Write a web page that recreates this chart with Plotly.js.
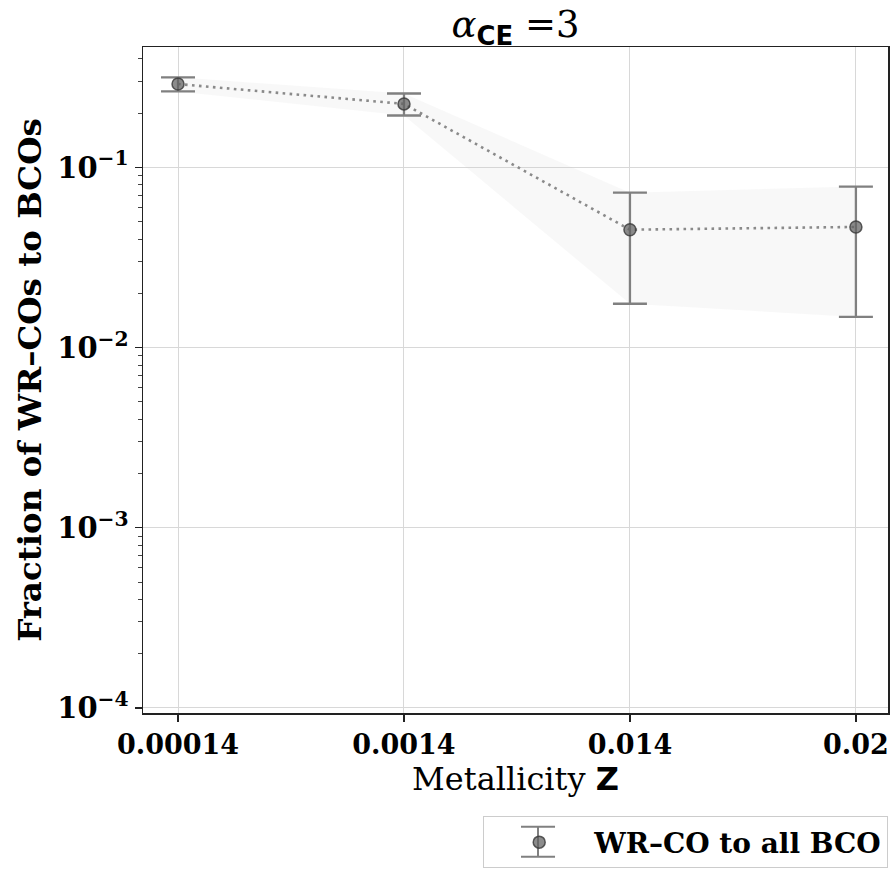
<!DOCTYPE html>
<html>
<head>
<meta charset="utf-8">
<script src="https://cdn.plot.ly/plotly-3.0.1.min.js"></script>
<style>html,body{margin:0;padding:0;background:#fff;}#chart{width:894px;height:870px;}</style>
</head>
<body>
<div id="chart"></div>
<script>
// Metallicity categories (x tick labels)
const zLabels = ['0.00014', '0.0014', '0.014', '0.02'];
// Fraction of WR-COs to all BCOs (median) and its upper / lower bounds
const fraction = [0.290, 0.225, 0.0451, 0.0467];
const upper    = [0.316, 0.257, 0.0724, 0.0782];
const lower    = [0.264, 0.194, 0.0175, 0.0148];
const seriesName = 'WR–CO to all BCO';
// y tick labels
const yTickVals = [1e-4, 1e-3, 1e-2, 1e-1];
const yTickText = ['10<sup>−4</sup>', '10<sup>−3</sup>', '10<sup>−2</sup>', '10<sup>−1</sup>'];

const errPlus  = upper.map((u, i) => u - fraction[i]);
const errMinus = fraction.map((f, i) => f - lower[i]);

// minor log tick positions (2..9 x 10^k)
const minorVals = [];
for (let k = -5; k <= 0; k++) for (let m = 2; m <= 9; m++) minorVals.push(m * Math.pow(10, k));

const band = {
  x: zLabels.concat(zLabels.slice().reverse()),
  y: upper.concat(lower.slice().reverse()),
  type: 'scatter', mode: 'lines', fill: 'toself',
  fillcolor: 'rgba(200,200,200,0.13)', line: {width: 0},
  hoverinfo: 'skip', showlegend: false
};
const dotted = {
  x: zLabels, y: fraction, type: 'scatter', mode: 'lines',
  line: {color: '#8a8a8a', width: 2.6, dash: '2.6px,4.4px'},
  showlegend: false, hoverinfo: 'skip'
};
const points = {
  x: zLabels, y: fraction, type: 'scatter', mode: 'markers', name: seriesName,
  marker: {size: 12, color: 'rgba(95,95,95,0.72)', line: {color: 'rgba(55,55,55,0.8)', width: 1.5}},
  error_y: {type: 'data', symmetric: false, array: errPlus, arrayminus: errMinus,
            color: '#808080', thickness: 2.3, width: 17},
  showlegend: true
};

// legend glyph whiskers (paper coords relative to plot area 143..888 x 47..713)
const px = v => (v - 143.3) / 744.4;
const py = v => (713.3 - v) / 666;
const gx = 538, gy = 842;
const legGlyph = [
  {x0: px(gx), x1: px(gx), y0: py(gy - 15), y1: py(gy + 15)},
  {x0: px(gx - 17), x1: px(gx + 17), y0: py(gy - 15), y1: py(gy - 15)},
  {x0: px(gx - 17), x1: px(gx + 17), y0: py(gy + 15), y1: py(gy + 15)}
].map(s => Object.assign({type: 'line', xref: 'paper', yref: 'paper', layer: 'above',
                          line: {color: '#808080', width: 2}}, s));

const serif = 'DejaVu Serif, serif';
const layout = {
  width: 894, height: 870,
  margin: {l: 143, r: 6, t: 47, b: 157, autoexpand: false},
  paper_bgcolor: '#fff', plot_bgcolor: '#fff',
  title: {
    text: '<i>α</i><sub><span style="font-family:DejaVu Sans;font-weight:bold">CE</span></sub> =3',
    font: {family: serif, size: 37, color: '#000'},
    x: 0.5, xref: 'paper', xanchor: 'center',
    y: 1 - 24 / 870, yref: 'container', yanchor: 'middle'
  },
  xaxis: {
    type: 'category', range: [-0.155, 3.142],
    showgrid: true, gridcolor: '#d8d8d8', gridwidth: 1,
    showline: true, linecolor: '#222', linewidth: 1.5, mirror: true,
    ticks: 'outside', ticklen: 7, tickwidth: 1.2, tickcolor: '#222',
    tickfont: {family: serif, size: 27, color: '#000', weight: 'bold'},
    zeroline: false,
    title: {
      text: 'Metallicity <span style="font-family:DejaVu Sans;font-weight:bold">Z</span>',
      font: {family: serif, size: 32, color: '#000'}, standoff: 8
    }
  },
  yaxis: {
    type: 'log', range: [-4.028, -0.332],
    tickmode: 'array', tickvals: yTickVals, ticktext: yTickText,
    showgrid: true, gridcolor: '#d8d8d8', gridwidth: 1,
    showline: true, linecolor: '#222', linewidth: 1.5, mirror: true,
    ticks: 'outside', ticklen: 7, tickwidth: 1.2, tickcolor: '#222',
    minor: {tickmode: 'array', tickvals: minorVals, ticks: 'outside', ticklen: 4,
            tickwidth: 1, tickcolor: '#444', showgrid: false},
    tickfont: {family: serif, size: 29, color: '#000', weight: 'bold'},
    zeroline: false,
    title: {
      text: 'Fraction of WR–COs to BCOs',
      font: {family: serif, size: 32.5, color: '#000', weight: 'bold'}, standoff: 6
    }
  },
  shapes: legGlyph,
  showlegend: true,
  legend: {
    x: 1, xanchor: 'right', xref: 'paper',
    y: -0.155, yanchor: 'top', yref: 'paper',
    bgcolor: 'rgba(255,255,255,0)', bordercolor: '#cccccc', borderwidth: 1.2,
    font: {family: serif, size: 28, color: '#000', weight: 'bold'},
    itemwidth: 100
  }
};

Plotly.newPlot('chart', [band, dotted, points], layout, {displayModeBar: false, staticPlot: true});
</script>
</body>
</html>
